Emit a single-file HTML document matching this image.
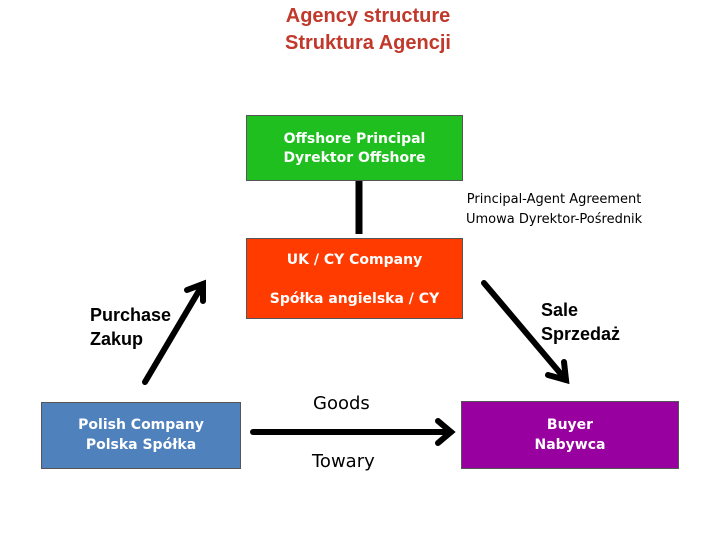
<!DOCTYPE html>
<html><head><meta charset="utf-8"><style>
body{margin:0;width:720px;height:540px;background:#fff;position:relative;overflow:hidden;font-family:"DejaVu Sans","Liberation Sans",sans-serif}
.t{position:absolute;white-space:nowrap}
.box{position:absolute;border:1px solid #555;color:#fff;font-weight:bold;font-size:14px;text-align:center;box-sizing:border-box}
</style></head><body>
<div class="t" style="left:0;width:736px;top:3px;text-align:center;color:#c0392b;font-family:'Liberation Sans',sans-serif;font-weight:bold;font-size:20px;line-height:27px">Agency structure<br>Struktura Agencji</div>
<div class="box" style="left:246px;top:115px;width:217px;height:66px;background:#1fbf1f;padding-top:14px;line-height:19px">Offshore Principal<br>Dyrektor Offshore</div>
<div class="box" style="left:246px;top:238px;width:217px;height:81px;background:#ff3b00;line-height:19px"><div style="position:absolute;top:12px;width:100%">UK / CY Company</div><div style="position:absolute;top:51px;width:100%">Spółka angielska / CY</div></div>
<div class="box" style="left:41px;top:402px;width:200px;height:67px;background:#4f81bd;padding-top:12px;line-height:20px">Polish Company<br>Polska Spółka</div>
<div class="box" style="left:461px;top:401px;width:218px;height:68px;background:#9900a0;padding-top:13px;line-height:20px">Buyer<br>Nabywca</div>
<div class="t" style="left:466px;top:190px;font-size:13px;line-height:20px;text-align:center">Principal-Agent Agreement<br>Umowa Dyrektor-Pośrednik</div>
<div class="t" style="left:90px;top:303px;font-family:'Liberation Sans',sans-serif;font-weight:bold;font-size:18px;line-height:24px">Purchase<br>Zakup</div>
<div class="t" style="left:541px;top:298px;font-family:'Liberation Sans',sans-serif;font-weight:bold;font-size:18px;line-height:24px">Sale<br>Sprzedaż</div>
<div class="t" style="left:313px;top:393px;font-size:18px">Goods</div>
<div class="t" style="left:312px;top:451px;font-size:18px">Towary</div>
<svg width="720" height="540" style="position:absolute;left:0;top:0">
<line x1="359" y1="181" x2="359" y2="234" stroke="#000" stroke-width="7"/>
<g stroke="#000" stroke-width="6" fill="none" stroke-linecap="round">
<line x1="145" y1="382" x2="203" y2="284"/>
<polyline points="187,290 203,284 203,301"/>
<line x1="484" y1="283" x2="566" y2="380"/>
<polyline points="548,375 566,380 564,362"/>
<line x1="253" y1="432" x2="451" y2="432"/>
<polyline points="438,421 451,432 438,443"/>
</g>
</svg>
</body></html>
